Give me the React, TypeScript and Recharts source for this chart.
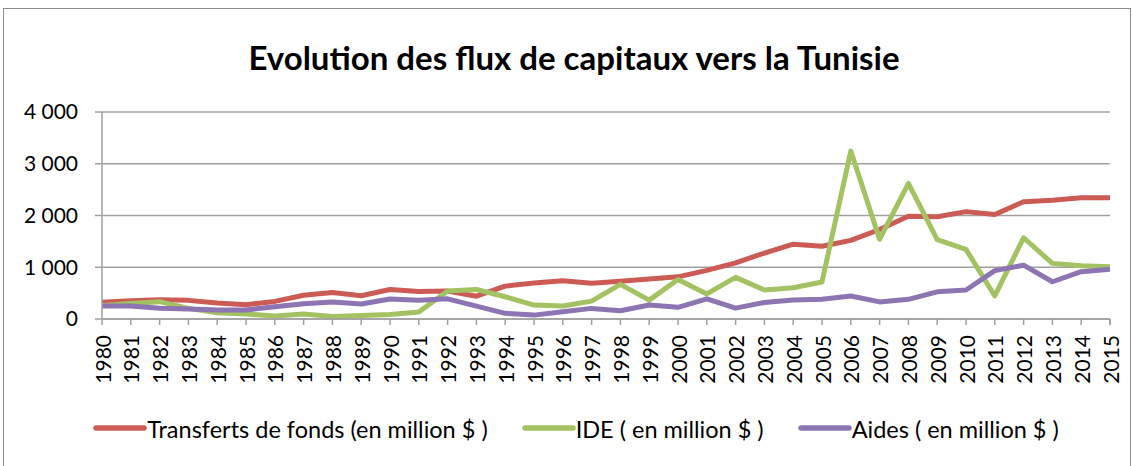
import React from 'react';
import { LineChart, Line, XAxis, YAxis, CartesianGrid, Legend } from 'recharts';

const years = ['1980','1981','1982','1983','1984','1985','1986','1987','1988','1989','1990','1991','1992','1993','1994','1995','1996','1997','1998','1999','2000','2001','2002','2003','2004','2005','2006','2007','2008','2009','2010','2011','2012','2013','2014','2015'];

const transferts = [325, 355, 370, 360, 310, 275, 340, 460, 510, 450, 570, 530, 540, 440, 635, 695, 740, 690, 730, 775, 815, 940, 1085, 1275, 1445, 1405, 1520, 1730, 1985, 1975, 2075, 2020, 2265, 2295, 2345, 2345];
const ide = [260, 300, 335, 205, 120, 95, 58, 95, 50, 70, 85, 135, 540, 570, 430, 270, 250, 345, 670, 365, 765, 485, 805, 560, 605, 715, 3245, 1540, 2620, 1535, 1345, 445, 1570, 1075, 1030, 1010];
const aides = [250, 250, 210, 195, 175, 175, 235, 295, 330, 290, 385, 360, 390, 250, 110, 75, 140, 205, 160, 270, 225, 390, 210, 320, 365, 380, 445, 330, 380, 525, 560, 935, 1040, 720, 915, 960];

const yTicks = [0, 1000, 2000, 3000, 4000];

const seriesNames = ['Transferts de fonds (en million $ )', 'IDE ( en million $ )', 'Aides ( en million $ )'];
const colors = ['#CD5B55', '#A3C262', '#8D74B3'];

const title = 'Evolution des flux de capitaux vers la Tunisie';

const data = years.map((y, i) => ({ year: y, t: transferts[i], i: ide[i], a: aides[i] }));

const FONT = 'Lato, "Open Sans", sans-serif';
const GRID = '#A0A0A0';

const fmt = (v: number) => {
  if (v === 0) return '0';
  const s = String(v);
  return s.slice(0, s.length - 3) + ' ' + s.slice(s.length - 3);
};

const XTick = (props: any) => {
  const { x, y, payload, index, visibleTicksCount } = props;
  const off = payload.offset || 0;
  const last = index === visibleTicksCount - 1;
  return (
    <g>
      <line x1={x - off} y1={y} x2={x - off} y2={y + 6} stroke={GRID} strokeWidth={1.5} />
      {last && <line x1={x + off} y1={y} x2={x + off} y2={y + 6} stroke={GRID} strokeWidth={1.5} />}
      <text
        transform={`translate(${x + 1},${y + 16}) rotate(-90)`}
        textAnchor="end"
        dy="0.36em"
        fontFamily={FONT}
        fontSize={21}
        fill="#000"
      >
        {payload.value}
      </text>
    </g>
  );
};

const renderLegend = (props: any) => {
  const items = [...(props.payload || [])].sort(
    (a: any, b: any) => seriesNames.indexOf(a.value) - seriesNames.indexOf(b.value)
  );
  return (
    <div style={{ display: 'flex', justifyContent: 'center', alignItems: 'center', height: 30, fontFamily: FONT, fontSize: 23.5, color: '#000' }}>
      {items.map((e: any, k: number) => (
        <div key={k} style={{ display: 'flex', alignItems: 'center', marginLeft: k ? 34 : 0 }}>
          <svg width={54} height={8} style={{ marginTop: -3 }}>
            <line x1={3} y1={4} x2={51} y2={4} stroke={e.color} strokeWidth={5.5} strokeLinecap="round" />
          </svg>
          <span style={{ marginLeft: 0 }}>{e.value}</span>
        </div>
      ))}
    </div>
  );
};

export default function App() {
  return (
    <div style={{ position: 'absolute', left: 0, top: 0, width: 1133, height: 466, background: '#fff', overflow: 'hidden' }}>
      <div style={{ position: 'absolute', left: 3, top: 8, width: 1126, height: 480, border: '1.5px solid #8E8E8E' }} />
      <div style={{ position: 'absolute', left: 0, top: 35, width: 1148, textAlign: 'center', fontFamily: FONT, fontWeight: 700, fontSize: 33, color: '#000', lineHeight: '44px' }}>
        {title}
      </div>
      <LineChart width={1133} height={466} data={data} margin={{ top: 112, right: 23, left: 0, bottom: 22 }}>
        <CartesianGrid horizontal vertical={false} stroke={GRID} strokeWidth={1.5} />
        <XAxis
          dataKey="year"
          interval={0}
          height={95}
          tickSize={0}
          tickMargin={0}
          tickLine={false}
          axisLine={{ stroke: GRID, strokeWidth: 1.5 }}
          tick={<XTick />}
        />
        <YAxis
          width={102}
          domain={[0, 4000]}
          ticks={yTicks}
          interval={0}
          tickFormatter={fmt}
          tickSize={7}
          tickMargin={17}
          tickLine={{ stroke: GRID, strokeWidth: 1.5 }}
          axisLine={{ stroke: GRID, strokeWidth: 1.5 }}
          tick={{ fill: '#000', fontFamily: FONT, fontSize: 21 }}
        />
        <Legend verticalAlign="bottom" content={renderLegend} wrapperStyle={{ left: 0, width: 1152 }} />
        <Line type="linear" dataKey="t" name={seriesNames[0]} stroke={colors[0]} strokeWidth={5} dot={false} isAnimationActive={false} strokeLinejoin="round" />
        <Line type="linear" dataKey="i" name={seriesNames[1]} stroke={colors[1]} strokeWidth={5} dot={false} isAnimationActive={false} strokeLinejoin="round" />
        <Line type="linear" dataKey="a" name={seriesNames[2]} stroke={colors[2]} strokeWidth={5} dot={false} isAnimationActive={false} strokeLinejoin="round" />
      </LineChart>
    </div>
  );
}
